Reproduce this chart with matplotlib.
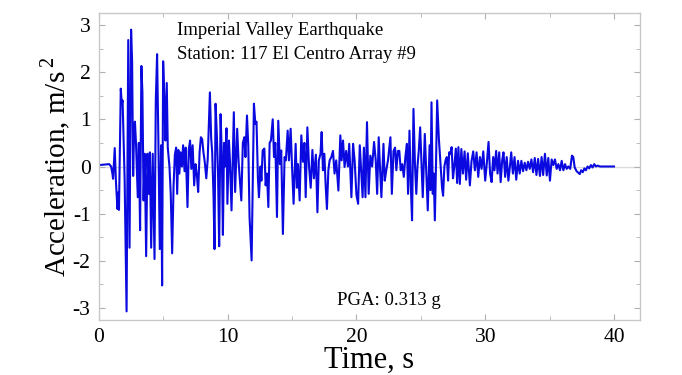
import numpy as np
import matplotlib.pyplot as plt

plt.rcParams['font.family'] = ['Liberation Serif', 'DejaVu Serif']
plt.rcParams['mathtext.fontset'] = 'custom'
plt.rcParams['mathtext.rm'] = 'Liberation Serif'
plt.rcParams['axes.unicode_minus'] = False

# digitized record (time in s, acceleration in m/s^2)
time_s = [
    0.00, 0.40, 0.80, 0.95, 1.05, 1.10, 1.23, 1.32, 1.44, 1.50, 1.56, 1.70, 1.78, 1.84,
    2.00, 2.15, 2.28, 2.38, 2.50, 2.58, 2.66, 2.73, 2.80, 2.88, 3.02, 3.10, 3.20, 3.30,
    3.38, 3.47, 3.56, 3.67, 3.77, 3.87, 3.96, 4.06, 4.18, 4.32, 4.42, 4.52, 4.62, 4.73,
    4.83, 4.91, 4.99, 5.09, 5.17, 5.27, 5.35, 5.48, 5.58, 5.69, 5.80, 5.90, 6.00, 6.08,
    6.17, 6.25, 6.34, 6.45, 6.54, 6.65, 6.74, 6.88, 6.98, 7.08, 7.18, 7.28, 7.40, 7.50,
    7.60, 7.71, 7.82, 7.92, 8.02, 8.12, 8.22, 8.34, 8.45, 8.62, 8.72, 8.80, 8.90, 8.98,
    9.06, 9.15, 9.25, 9.34, 9.45, 9.55, 9.63, 9.72, 9.80, 9.91, 9.98, 10.10, 10.18, 10.30,
    10.48, 10.58, 10.74, 10.85, 11.06, 11.18, 11.30, 11.38, 11.50, 11.60, 11.70, 11.86,
    12.04, 12.15, 12.24, 12.35, 12.43, 12.55, 12.62, 12.72, 12.85, 12.95, 13.05, 13.16,
    13.26, 13.36, 13.50, 13.60, 13.70, 13.83, 13.93, 14.06, 14.16, 14.29, 14.42, 14.52,
    14.66, 14.76, 14.89, 15.00, 15.12, 15.28, 15.38, 15.46, 15.59, 15.72, 15.85, 15.96,
    16.06, 16.19, 16.32, 16.45, 16.58, 16.70, 16.85, 16.97, 17.08, 17.21, 17.30, 17.40,
    17.51, 17.61, 17.71, 17.82, 17.92, 18.05, 18.18, 18.30, 18.43, 18.60, 18.75, 18.85,
    18.96, 19.08, 19.20, 19.34, 19.44, 19.61, 19.74, 19.86, 20.00, 20.13, 20.26, 20.38,
    20.48, 20.58, 20.70, 20.82, 20.95, 21.08, 21.22, 21.37, 21.50, 21.61, 21.73, 21.84,
    21.94, 22.10, 22.20, 22.32, 22.45, 22.64, 22.75, 22.88, 23.00, 23.10, 23.22, 23.33,
    23.44, 23.56, 23.68, 23.80, 23.92, 24.01, 24.12, 24.22, 24.32, 24.43, 24.55, 24.65,
    24.74, 24.84, 24.95, 25.15, 25.31, 25.42, 25.54, 25.68, 25.75, 25.83, 25.93, 26.00,
    26.09, 26.18, 26.27, 26.40, 26.55, 26.65, 26.73, 26.83, 26.92, 27.02, 27.12, 27.20,
    27.30, 27.39, 27.50, 27.60, 27.72, 27.82, 27.92, 28.03, 28.15, 28.27, 28.40, 28.52,
    28.65, 28.81, 28.94, 29.07, 29.20, 29.33, 29.46, 29.59, 29.72, 29.85, 30.00, 30.12,
    30.26, 30.38, 30.50, 30.62, 30.72, 30.85, 30.96, 31.09, 31.20, 31.32, 31.42, 31.55,
    31.67, 31.80, 31.92, 32.02, 32.15, 32.28, 32.41, 32.55, 32.68, 32.81, 32.94, 33.07,
    33.20, 33.33, 33.46, 33.59, 33.72, 33.85, 33.98, 34.11, 34.25, 34.38, 34.50, 34.64,
    34.78, 34.90, 35.03, 35.16, 35.29, 35.42, 35.55, 35.68, 35.81, 35.94, 36.07, 36.20,
    36.33, 36.46, 36.60, 36.74, 36.84, 36.95, 37.10, 37.34, 37.45, 37.58, 37.70, 37.82,
    37.95, 38.08, 38.21, 38.34, 38.47, 38.60, 38.73, 38.90, 39.20, 40.00,
]
accel = [
    0.03, 0.04, 0.05, 0.00, -0.15, -0.26, 0.39, -0.30, -0.90, -0.55, -0.92, 1.65, 1.33, 1.40,
    -0.28, -3.07, 2.68, -1.72, 2.90, 2.23, -0.20, 0.70, 0.95, 0.50, -0.65, 0.50, -1.35, 2.13,
    1.57, -0.72, 0.27, -1.90, 0.27, -0.58, 0.30, -1.72, 0.27, -1.96, 1.40, 2.38, 0.55, -1.75,
    0.45, -2.52, 2.23, 1.40, 0.55, 1.77, 0.40, 0.00, -0.58, -1.84, -0.40, 0.25, 0.40, -0.58,
    0.35, -0.15, 0.30, 0.00, 0.45, -0.10, 0.40, -0.86, 0.35, 0.55, -0.05, 0.45, -0.40, 0.05,
    -0.15, -0.54, 0.30, 0.62, 0.58, 0.30, 0.10, -0.25, 0.15, 1.57, 0.60, 0.30, -0.60, -1.75,
    1.33, 0.75, -0.10, -1.69, 1.11, 0.20, -1.45, 0.50, 0.00, 0.81, -0.79, 0.55, 0.10, -0.93,
    1.15, -0.54, 0.80, 0.10, -0.72, 0.50, 0.62, 0.20, 1.08, 0.45, -1.07, -1.99,
    1.33, 0.90, 0.95, -0.25, -0.65, 0.00, -0.30, 0.34, 0.38, -0.40, -0.15, -0.86,
    0.50, 0.55, 1.00, 0.20, 0.50, -1.07, 0.97, 0.05, 0.34, -1.43, 0.20, 0.13,
    0.76, 0.13, 0.80, 0.00, -0.79, 0.48, -0.45, 0.05, -0.72, 0.66, 0.10, 0.50,
    -0.65, 0.83, 0.00, -0.45, 0.35, -0.25, 0.25, -0.97, 0.13, 0.27, 0.73, -0.08,
    0.27, -0.40, -0.90, -0.08, 0.13, 0.20, 0.33, -0.15, 0.13, -0.51, 0.66, 0.13,
    0.55, -0.01, 0.33, 0.00, 0.48, -0.65, 0.48, 0.13, -0.60, -0.79, 0.45, -0.15,
    -0.65, 0.40, -0.65, 0.94, -0.58, 0.23, 0.00, 0.52, 0.13, -0.58, 0.62, -0.08,
    -0.65, 0.48, -0.30, -0.08, 0.13, 0.62, -0.58, 0.33, 0.40, -0.08, 0.33, 0.33,
    -0.08, 0.05, -0.22, 0.20, 0.48, -0.58, 0.76, -0.40, -1.14, 1.22, 0.00, -0.58,
    0.00, 0.33, 0.83, -0.65, 0.69, -0.10, -0.93, 0.45, -0.50, 1.36, -0.58, -0.15,
    -1.14, 0.05, 1.40, 0.60, -0.02, -0.45, -0.62, 0.00, 0.13, 0.20, -0.30, 0.30,
    0.27, 0.41, -0.25, 0.00, 0.38, -0.35, 0.41, -0.37, 0.37, -0.15, 0.32, -0.28,
    0.28, -0.40, 0.12, 0.32, -0.08, 0.30, -0.22, 0.20, -0.05, 0.32, -0.30, 0.05,
    0.52, -0.15, -0.33, 0.20, -0.08, 0.33, -0.15, 0.30, -0.33, 0.13, 0.30, -0.22,
    0.20, -0.30, 0.00, 0.30, -0.15, 0.20, -0.28, 0.12, -0.15, 0.12, -0.10, 0.08,
    -0.08, 0.10, -0.05, 0.15, -0.12, 0.18, -0.18, 0.16, -0.20, 0.20, -0.18, 0.27,
    -0.19, 0.18, -0.30, 0.15, 0.03, 0.15, -0.05, 0.05, -0.08, 0.12, -0.08, 0.05,
    -0.05, 0.00, -0.05, 0.23, 0.20, -0.02, -0.10, -0.16, -0.08, -0.12, -0.04, -0.08,
    0.00, -0.04, 0.03, -0.02, 0.05, 0.00, 0.02, 0.00, 0.00, 0.00,
]

x_ticks = [0, 10, 20, 30, 40]
y_ticks = [-3, -2, -1, 0, 1, 2, 3]

fig = plt.figure(figsize=(6.82, 3.75), dpi=100)
ax = fig.add_axes([0.145, 0.147, 0.793, 0.818])

ax.axhline(0, color='#dcdcdc', lw=1.0, zorder=1)
ax.plot(time_s, accel, color='#0a0ae0', lw=1.5, zorder=2)

ax.set_xlim(0, 42)
ax.set_ylim(-3.25, 3.25)
ax.set_xticks(x_ticks)
ax.set_yticks(y_ticks)
ax.set_xticks(np.arange(5, 42, 10), minor=True)
ax.set_yticks(np.arange(-2.5, 3.0, 1.0), minor=True)
ax.tick_params(which='both', direction='in', top=True, right=True,
               color='#b0b0b0', labelsize=15.5, pad=6)
ax.tick_params(which='major', length=4)
ax.tick_params(which='minor', length=3)
for sp in ax.spines.values():
    sp.set_color('#c8c8c8')
    sp.set_linewidth(1.0)

ax.set_xlabel('Time, s', fontsize=22, labelpad=-1)
ax.set_ylabel('Acceleration, m/s$^{\\,2}$', fontsize=21, labelpad=0)

ax.text(0.144, 0.928, 'Imperial Valley Earthquake', transform=ax.transAxes,
        fontsize=13.5, va='baseline')
ax.text(0.144, 0.85, 'Station: 117 El Centro Array #9', transform=ax.transAxes,
        fontsize=13.5, va='baseline')
ax.text(0.44, 0.049, 'PGA: 0.313 g', transform=ax.transAxes,
        fontsize=13.5, va='baseline')

fig.savefig('out.png', dpi=100)
